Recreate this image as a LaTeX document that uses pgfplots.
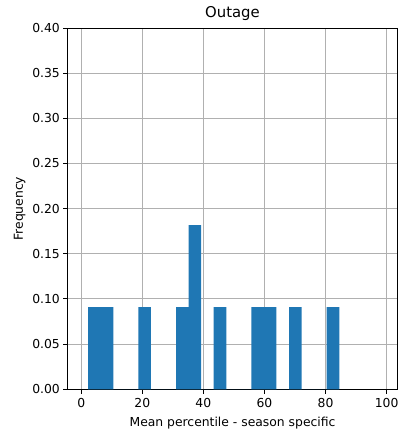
\documentclass[border=0pt]{standalone}
\usepackage{pgfplots}
\pgfplotsset{compat=1.18}
\usepackage{fontspec}
\setmainfont{DejaVu Sans}
\definecolor{c0}{HTML}{1F77B4}
\definecolor{gridc}{HTML}{B0B0B0}
\begin{document}
\begin{tikzpicture}
\begin{axis}[
  at={(0,0)}, anchor=south west,
  scale only axis, width=329.3bp, height=361bp,
  xmin=-4.4, xmax=103.5, ymin=0, ymax=0.40,
  xtick={0,20,...,100},
  ytick={0,0.05,...,0.40},
  yticklabel style={/pgf/number format/fixed,/pgf/number format/fixed zerofill,/pgf/number format/precision=2},
  /pgf/number format/assume math mode=true,
  tick label style={font=\fontsize{12.4}{14}\selectfont},
  label style={font=\fontsize{12.4}{14}\selectfont},
  xticklabel style={yshift=-1bp},
  xlabel style={yshift=-2.5bp},
  grid=major,
  grid style={gridc, line width=1bp},
  axis line style={black, line width=1bp},
  tick style={black, line width=1bp},
  tick align=outside, major tick length=4.4bp,
  xtick pos=bottom, ytick pos=left,
  xlabel={Mean percentile - season specific},
  ylabel={Frequency},
  title={Outage},
  title style={font=\fontsize{14.9}{16}\selectfont, yshift=-2bp},
  axis on top=false,
]
\addplot[ybar interval, fill=c0, draw=none] coordinates {
(2.30,0.0909) (6.41,0.0909) (10.52,0) (14.63,0) (18.74,0.0909) (22.85,0)
(26.96,0) (31.07,0.0909) (35.18,0.1818) (39.29,0) (43.40,0.0909) (47.51,0)
(51.62,0) (55.73,0.0909) (59.84,0.0909) (63.95,0) (68.06,0.0909) (72.17,0)
(76.28,0) (80.39,0.0909) (84.50,0)
};
\end{axis}
\pgfresetboundingbox
\path (-67.7bp,-40.7bp) rectangle (333.3bp,389bp);
\end{tikzpicture}
\end{document}
